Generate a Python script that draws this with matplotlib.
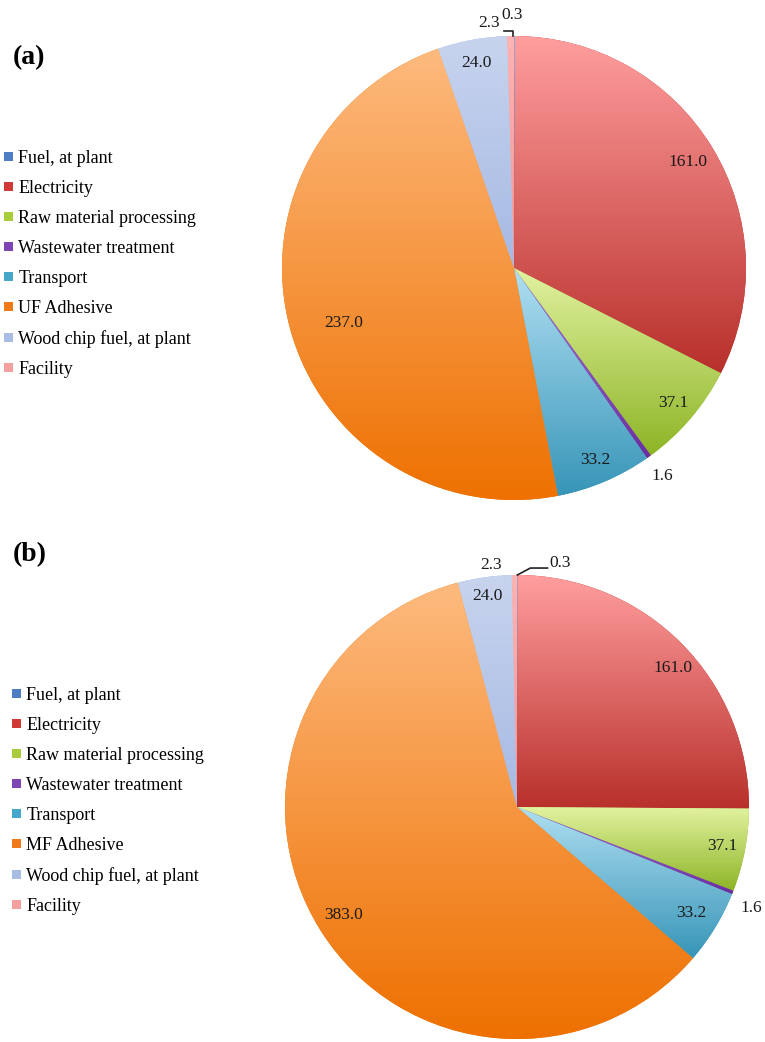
import numpy as np
import matplotlib
matplotlib.use('Agg')
import matplotlib.pyplot as plt
from matplotlib.colors import to_rgb
from matplotlib.patches import Patch

plt.rcParams['font.family'] = ['Liberation Serif', 'DejaVu Serif']

# Данные
categories_a = ['Fuel, at plant', 'Electricity', 'Raw material processing', 'Wastewater treatment',
                'Transport', 'UF Adhesive', 'Wood chip fuel, at plant', 'Facility']
categories_b = ['Fuel, at plant', 'Electricity', 'Raw material processing', 'Wastewater treatment',
                'Transport', 'MF Adhesive', 'Wood chip fuel, at plant', 'Facility']
values_a = [0.3, 161.0, 37.1, 1.6, 33.2, 237.0, 24.0, 2.3]
values_b = [0.3, 161.0, 37.1, 1.6, 33.2, 383.0, 24.0, 2.3]

# светлый верх / тёмный низ каждого сектора
grad_colors = [('#8FB0E8', '#3D6AB3'),
               ('#FF9E9E', '#B8302B'),
               ('#E2F2A0', '#8DB526'),
               ('#A77BD6', '#6A2EA0'),
               ('#B0DFF2', '#3795B8'),
               ('#FDBA7E', '#EE7000'),
               ('#C8D4EE', '#A5B9E3'),
               ('#FFB3B3', '#F39494')]
legend_colors = ['#4F7DC4', '#D03A36', '#A8CC3C', '#7E45B5', '#45A7C9', '#F07A1A', '#A9BCE4', '#F5A0A0']

# (радиус, сдвиг угла) для подписей
label_pos_a = [(1.09, 0.6), (0.88, 0), (0.9, 0), (1.1, 0), (0.9, 0), (0.77, 3), (0.9, 0), (1.06, 5)]
label_pos_b = [(1.07, -10), (0.9, -3), (0.9, 0), (1.1, -1.7), (0.88, 0), (0.88, 0), (0.92, 0), (1.05, 5.5)]

W, H = 765, 1042
fig = plt.figure(figsize=(W / 100, H / 100), dpi=100)


def draw_pie(rect, values, label_pos, leader):
    ax = fig.add_axes(rect)
    wedges, _ = ax.pie(values, startangle=90, counterclock=False, radius=1.0,
                       colors=[c[1] for c in grad_colors], wedgeprops=dict(linewidth=0))
    for w, (c1, c2) in zip(wedges, grad_colors):
        verts = w.get_path().vertices
        y0, y1 = verts[:, 1].min(), verts[:, 1].max()
        x0, x1 = verts[:, 0].min(), verts[:, 0].max()
        t = np.linspace(0, 1, 128)[:, None]
        grad = (1 - t) * np.array(to_rgb(c1)) + t * np.array(to_rgb(c2))
        img = ax.imshow(grad[:, None, :].repeat(2, axis=1), extent=[x0, x1, y0, y1],
                        origin='upper', aspect='auto', interpolation='bilinear', zorder=2)
        img.set_clip_path(w)
    for w, v, (r, sh) in zip(wedges, values, label_pos):
        mid = np.deg2rad((w.theta1 + w.theta2) / 2 + sh)
        ax.text(r * np.cos(mid), r * np.sin(mid), f'{v:.1f}', ha='center', va='center',
                fontsize=12.5, color='#1a1a1a', zorder=5)
    # выноска для 0.3
    mid = np.deg2rad((wedges[0].theta1 + wedges[0].theta2) / 2)
    ex, ey = np.cos(mid), np.sin(mid)
    px = [ex + d[0] for d in leader]
    py = [ey + d[1] for d in leader]
    ax.plot(px, py, color='#222222', lw=1.2, zorder=6, clip_on=False)
    ax.set_xlim(-1, 1)
    ax.set_ylim(-1, 1)
    ax.set_aspect('equal')
    ax.axis('off')
    return ax


r = 232
draw_pie([(514 - r) / W, (H - 268 - r) / H, 2 * r / W, 2 * r / H], values_a, label_pos_a,
         [(-0.045, 0.022), (-0.008, 0.022), (-0.008, 0.0)])
draw_pie([(517 - r) / W, (H - 807 - r) / H, 2 * r / W, 2 * r / H], values_b, label_pos_b,
         [(0.0, 0.0), (0.056, 0.03), (0.13, 0.03)])

for cats, x, ytop in [(categories_a, 4, 160), (categories_b, 12, 697)]:
    handles = [Patch(facecolor=c, edgecolor='none') for c in legend_colors]
    fig.legend(handles, cats, loc='upper left', bbox_to_anchor=(x / W, 1 - (ytop - 10) / H),
               frameon=False, fontsize=13, handlelength=0.5, handleheight=0.42,
               handletextpad=0.3, labelspacing=0.72, borderaxespad=0, borderpad=0)

fig.text(13 / W, 1 - 58 / H, '(a)', fontsize=20, fontweight='bold', va='center', ha='left')
fig.text(13 / W, 1 - 555 / H, '(b)', fontsize=20, fontweight='bold', va='center', ha='left')

plt.savefig('out.png', dpi=100)
